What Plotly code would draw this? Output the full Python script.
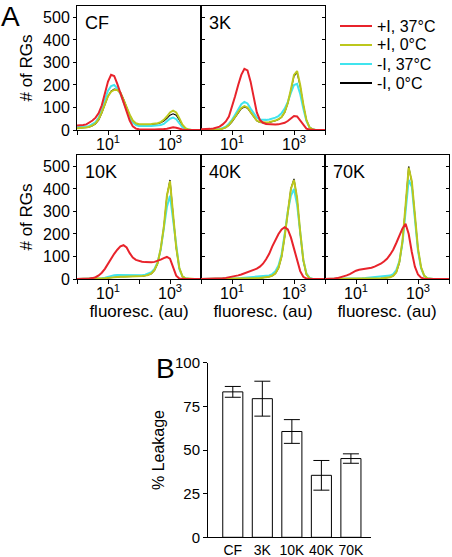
import plotly.graph_objects as go

# ---------------- data ----------------
# fluorescence bins (log10 of au)
LOG10_FLUOR = [0.0, 0.1, 0.2, 0.3, 0.4, 0.5, 0.6, 0.7, 0.8, 0.9,
               1.0, 1.1, 1.2, 1.3, 1.4, 1.5, 1.6, 1.7, 1.8, 1.9,
               2.0, 2.1, 2.2, 2.3, 2.4, 2.5, 2.6, 2.7, 2.8, 2.9,
               3.0, 3.1, 3.2, 3.3, 3.4, 3.5, 3.6, 3.7, 3.8, 3.9,
               4.0]

panel_names = ["CF", "3K", "10K", "40K", "70K"]
series_names = ["+I, 37°C", "+I, 0°C", "-I, 37°C", "-I, 0°C"]

cf_red = [20, 20, 22, 25, 32, 42, 55, 75, 110, 165, 215, 245, 240, 205, 165, 125, 82, 42, 16, 6,
          3, 2, 2, 2, 2, 2, 2, 3, 4, 6, 9, 12, 10, 5, 2, 0, 0, 0, 0, 0, 0]
cf_yellow = [8, 8, 9, 11, 14, 20, 30, 48, 78, 118, 150, 170, 178, 178, 165, 135, 100, 68, 42, 30,
             26, 25, 25, 26, 27, 28, 30, 35, 45, 60, 78, 86, 78, 52, 24, 8, 2, 0, 0, 0, 0]
cf_cyan = [12, 12, 13, 15, 18, 25, 35, 55, 90, 135, 175, 195, 200, 185, 160, 125, 88, 55, 33, 22,
           18, 17, 17, 18, 18, 19, 20, 22, 27, 38, 50, 55, 48, 30, 12, 4, 1, 0, 0, 0, 0]
cf_black = [8, 8, 9, 11, 14, 19, 28, 45, 75, 115, 150, 172, 182, 180, 168, 138, 100, 66, 40, 28,
            24, 23, 23, 24, 25, 26, 28, 32, 40, 52, 66, 72, 66, 45, 20, 6, 1, 0, 0, 0, 0]

k3_red = [3, 3, 4, 5, 7, 10, 15, 25, 38, 60, 100, 150, 200, 245, 272, 265, 215, 140, 78, 45,
          32, 27, 25, 24, 24, 25, 27, 32, 40, 52, 62, 60, 42, 20, 6, 2, 0, 0, 0, 0, 0]
k3_yellow = [0, 0, 0, 0, 0, 1, 3, 6, 12, 22, 38, 58, 80, 98, 106, 100, 80, 58, 42, 35,
             33, 33, 35, 38, 42, 48, 58, 80, 120, 180, 245, 262, 200, 115, 45, 12, 3, 0, 0, 0, 0]
k3_cyan = [0, 0, 0, 0, 1, 2, 4, 8, 15, 28, 45, 68, 92, 115, 125, 118, 95, 72, 55, 47,
           45, 45, 47, 50, 55, 62, 75, 95, 125, 165, 200, 205, 160, 95, 40, 12, 3, 0, 0, 0, 0]
k3_black = [0, 0, 0, 0, 0, 1, 3, 6, 11, 21, 36, 56, 78, 95, 102, 97, 78, 57, 41, 34,
            32, 32, 34, 37, 41, 47, 57, 78, 118, 176, 240, 255, 195, 112, 44, 12, 3, 0, 0, 0, 0]

k10_red = [0, 0, 0, 1, 2, 4, 8, 16, 28, 45, 68, 90, 112, 130, 145, 150, 140, 115, 95, 85,
           80, 77, 75, 74, 74, 76, 80, 86, 93, 98, 90, 50, 15, 2, 0, 0, 0, 0, 0, 0, 0]
k10_yellow = [0, 0, 0, 0, 0, 0, 0, 0, 1, 3, 5, 7, 9, 10, 10, 10, 10, 10, 10, 11,
              12, 13, 15, 18, 25, 40, 70, 135, 230, 370, 435, 290, 140, 50, 12, 3, 1, 0, 0, 0, 0]
k10_cyan = [0, 0, 0, 0, 0, 0, 0, 1, 3, 6, 10, 14, 17, 18, 18, 17, 16, 15, 15, 15,
            16, 17, 19, 23, 30, 45, 75, 130, 220, 320, 370, 260, 130, 45, 12, 3, 1, 0, 0, 0, 0]
k10_black = [0, 0, 0, 0, 0, 0, 0, 0, 1, 3, 5, 7, 9, 10, 10, 10, 10, 10, 10, 11,
             12, 13, 15, 18, 24, 38, 68, 132, 228, 368, 440, 285, 138, 48, 12, 3, 1, 0, 0, 0, 0]

k40_red = [0, 0, 0, 0, 0, 0, 1, 3, 5, 7, 9, 12, 16, 20, 25, 30, 35, 40, 46, 55,
           68, 88, 112, 145, 175, 200, 220, 230, 220, 185, 135, 80, 35, 10, 2, 0, 0, 0, 0, 0, 0]
k40_yellow = [0, 0, 0, 0, 0, 0, 0, 0, 0, 0, 0, 0, 0, 0, 0, 1, 1, 2, 3, 4,
              5, 7, 10, 15, 25, 50, 100, 190, 300, 400, 440, 360, 210, 85, 22, 4, 0, 0, 0, 0, 0]
k40_cyan = [0, 0, 0, 0, 0, 0, 0, 0, 0, 0, 1, 2, 3, 4, 5, 6, 7, 8, 9, 10,
            11, 13, 16, 22, 35, 60, 110, 200, 300, 370, 400, 330, 200, 85, 25, 5, 1, 0, 0, 0, 0]
k40_black = [0, 0, 0, 0, 0, 0, 0, 0, 0, 0, 0, 0, 0, 0, 0, 1, 1, 2, 3, 4,
             5, 7, 10, 15, 24, 48, 98, 188, 298, 402, 445, 355, 205, 82, 20, 4, 0, 0, 0, 0, 0]

k70_red = [0, 0, 1, 2, 4, 7, 11, 16, 22, 30, 37, 41, 43, 45, 47, 50, 55, 61, 68, 78,
           90, 108, 130, 160, 195, 225, 245, 200, 120, 55, 20, 6, 1, 0, 0, 0, 0, 0, 0, 0, 0]
k70_yellow = [0, 0, 0, 0, 0, 0, 0, 0, 0, 0, 0, 0, 0, 0, 0, 1, 1, 2, 3, 4,
              5, 8, 14, 30, 75, 170, 330, 495, 435, 280, 135, 52, 15, 3, 0, 0, 0, 0, 0, 0, 0]
k70_cyan = [0, 0, 0, 0, 0, 0, 0, 0, 0, 0, 1, 2, 3, 4, 5, 6, 7, 8, 9, 10,
            12, 15, 22, 40, 80, 160, 300, 440, 410, 260, 125, 48, 14, 3, 0, 0, 0, 0, 0, 0, 0]
k70_black = [0, 0, 0, 0, 0, 0, 0, 0, 0, 0, 0, 0, 0, 0, 0, 1, 1, 2, 3, 4,
             5, 8, 14, 29, 72, 165, 325, 500, 430, 275, 132, 50, 14, 3, 0, 0, 0, 0, 0, 0, 0]

hist_data = {
    "CF": [cf_red, cf_yellow, cf_cyan, cf_black],
    "3K": [k3_red, k3_yellow, k3_cyan, k3_black],
    "10K": [k10_red, k10_yellow, k10_cyan, k10_black],
    "40K": [k40_red, k40_yellow, k40_cyan, k40_black],
    "70K": [k70_red, k70_yellow, k70_cyan, k70_black],
}

# Panel B
leak_categories = ["CF", "3K", "10K", "40K", "70K"]
leak_values = [83.3, 79.4, 60.6, 35.5, 45.1]
leak_err = [3.1, 10.0, 6.8, 8.5, 2.7]

y_ticks_hist = [0, 100, 200, 300, 400, 500]
x_label_tickvals = [10, 1000]
x_label_ticktext = ["10<sup>1</sup>", "10<sup>3</sup>"]
x_unlabelled_tickvals = [1, 100, 10000]

# ---------------- styling ----------------
W, H = 452, 557
FONT = "Liberation Sans, Arial, sans-serif"
colors = ["#E8232B", "#BCC71C", "#40E4EE", "#000000"]
widths = [2, 2, 2, 1.2]
draw_order = [3, 2, 1, 0]   # black, cyan, yellow, red (red on top)

def px_x(v):
    return v / W

def px_y(v):
    return 1 - v / H

# panel boxes in pixels: (left, right, top, bottom)
boxes = {
    "CF": (77, 201, 6, 130),
    "3K": (201, 325, 6, 130),
    "10K": (77, 201, 155, 279),
    "40K": (201, 325, 155, 279),
    "70K": (325, 449, 155, 279),
}
left_panels = {"CF", "10K"}
bottom_titled = {"10K", "40K", "70K"}

xvals = [10 ** v for v in LOG10_FLUOR]

fig = go.Figure()
layout = dict(
    width=W, height=H,
    margin=dict(l=0, r=0, t=0, b=0, autoexpand=False),
    paper_bgcolor="white", plot_bgcolor="white",
    font=dict(family=FONT, size=16, color="black"),
    showlegend=False,
    annotations=[], shapes=[],
)

for i, name in enumerate(panel_names):
    k = i + 1
    xa = "x" if k == 1 else f"x{k}"
    ya = "y" if k == 1 else f"y{k}"
    l, r, t, b = boxes[name]
    curves = hist_data[name]
    for s in draw_order:
        fig.add_trace(go.Scatter(
            x=xvals, y=curves[s], mode="lines",
            line=dict(color=colors[s], width=widths[s]),
            name=series_names[s], showlegend=False,
            xaxis=xa, yaxis=ya, hoverinfo="skip",
        ))
    is_left = name in left_panels
    xaxis = dict(
        domain=[px_x(l), px_x(r)], anchor=ya, type="log", range=[0, 4],
        tickvals=x_label_tickvals, ticktext=x_label_ticktext,
        ticks="outside", ticklen=4, tickcolor="black",
        minor=dict(tickvals=x_unlabelled_tickvals, ticks="outside", ticklen=4,
                   tickcolor="black", showgrid=False),
        showline=True, linecolor="black", linewidth=1,
        mirror=True, showgrid=False, zeroline=False,
        tickfont=dict(size=16), ticklabelstandoff=-4,
    )
    if name in bottom_titled:
        xaxis["title"] = dict(text="fluoresc. (au)", font=dict(size=17), standoff=2)
    yaxis = dict(
        domain=[px_y(b), px_y(t)], anchor=xa, range=[0, 551],
        tickvals=y_ticks_hist, ticks="outside" if is_left else "inside",
        ticklen=3, tickcolor="black", showticklabels=is_left,
        showline=True, linecolor="black", linewidth=1, mirror="ticks",
        showgrid=False, zeroline=False, tickfont=dict(size=16),
    )
    if is_left:
        yaxis["title"] = dict(text="# of RGs", font=dict(size=17), standoff=6)
    layout[f"xaxis{'' if k == 1 else k}"] = xaxis
    layout[f"yaxis{'' if k == 1 else k}"] = yaxis
    layout["annotations"].append(dict(
        text=name, xref="paper", yref="paper", x=px_x(l + 6), y=px_y(t + 17),
        xanchor="left", yanchor="middle", showarrow=False, font=dict(size=18),
    ))

# legend (drawn as key lines + labels)
legend_rows_px = [26, 45, 64, 83]
for s, ypx in enumerate(legend_rows_px):
    layout["shapes"].append(dict(
        type="line", xref="paper", yref="paper",
        x0=px_x(340), x1=px_x(372), y0=px_y(ypx), y1=px_y(ypx),
        line=dict(color=colors[s], width=2),
    ))
    layout["annotations"].append(dict(
        text=series_names[s], xref="paper", yref="paper",
        x=px_x(375), y=px_y(ypx), xanchor="left", yanchor="middle",
        showarrow=False, font=dict(size=16),
    ))

# Panel B bar chart
fig.add_trace(go.Bar(
    x=list(range(len(leak_categories))), y=leak_values, width=0.68,
    marker=dict(color="white", line=dict(color="black", width=1)),
    error_y=dict(type="data", array=leak_err, color="black", thickness=1, width=8),
    showlegend=False, xaxis="x6", yaxis="y6", hoverinfo="skip",
))
layout["xaxis6"] = dict(
    domain=[px_x(208), px_x(371)], anchor="y6", range=[-0.84, 4.68],
    tickvals=list(range(len(leak_categories))), ticktext=leak_categories,
    ticks="", showline=True, linecolor="black", linewidth=1,
    showgrid=False, zeroline=False, tickfont=dict(size=14),
)
layout["yaxis6"] = dict(
    domain=[px_y(537.3), px_y(362.7)], anchor="x6", range=[0, 100],
    tickvals=[0, 25, 50, 75, 100], ticks="outside", ticklen=4, tickcolor="black",
    showline=True, linecolor="black", linewidth=1, showgrid=False, zeroline=False,
    tickfont=dict(size=15),
    title=dict(text="% Leakage", font=dict(size=16), standoff=6),
)

layout["annotations"].append(dict(
    text="A", xref="paper", yref="paper", x=px_x(-1), y=px_y(17),
    xanchor="left", yanchor="middle", showarrow=False, font=dict(size=28)))
layout["annotations"].append(dict(
    text="B", xref="paper", yref="paper", x=px_x(154), y=px_y(368),
    xanchor="left", yanchor="middle", showarrow=False, font=dict(size=28)))

fig.update_layout(**layout)
fig.write_html(
    "out.html",
    config={"displayModeBar": False},
    post_script="document.body.style.margin='0';document.body.style.overflow='hidden';",
)
